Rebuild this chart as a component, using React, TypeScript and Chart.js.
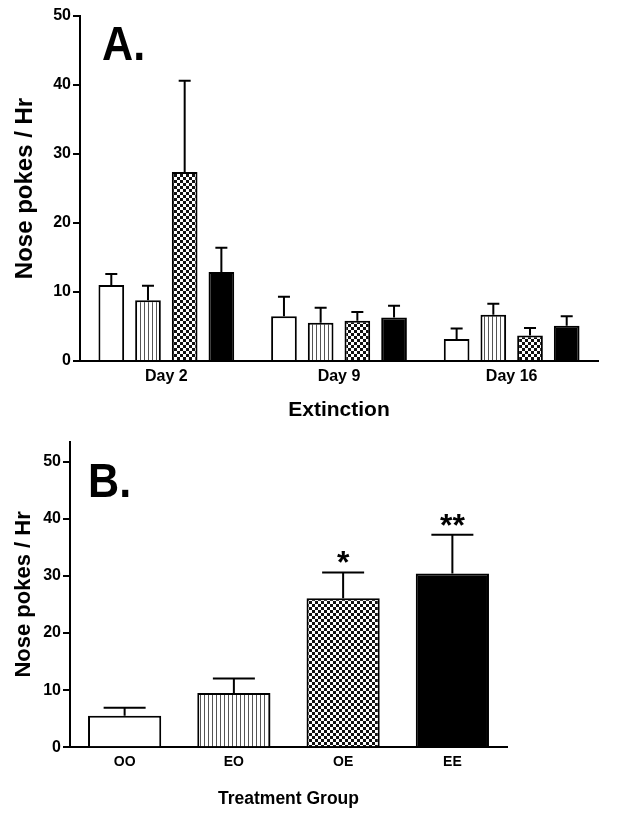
import React, { useEffect, useRef } from "react";
import { Chart, registerables } from "chart.js";
Chart.register(...registerables);

const FONT = "'Liberation Sans', Arial, Helvetica, sans-serif";

// Panel A data
const daysA = ["Day 2", "Day 9", "Day 16"];
const groupNames = ["OO", "EO", "OE", "EE"];
const meanOO_A = [11.0, 6.5, 3.2];
const semOO_A = [1.6, 2.8, 1.5];
const meanEO_A = [8.8, 5.55, 6.7];
const semEO_A = [2.1, 2.15, 1.6];
const meanOE_A = [27.4, 5.85, 3.7];
const semOE_A = [13.2, 1.25, 1.1];
const meanEE_A = [12.9, 6.3, 5.1];
const semEE_A = [3.5, 1.7, 1.4];
const yTicks = [0, 10, 20, 30, 40, 50];

// Panel B data
const groupsB = ["OO", "EO", "OE", "EE"];
const meanB = [5.5, 9.5, 26.1, 30.4];
const semB = [1.4, 2.55, 4.5, 6.8];
const sigB = ["", "", "*", "**"];

function makeStripe(): CanvasPattern {
  const c = document.createElement("canvas");
  c.width = 4;
  c.height = 4;
  const g = c.getContext("2d")!;
  g.fillStyle = "#fff";
  g.fillRect(0, 0, 4, 4);
  g.fillStyle = "#555";
  g.fillRect(0, 0, 1, 4);
  return g.createPattern(c, "repeat")!;
}

function makeChecker(size: number): CanvasPattern {
  const c = document.createElement("canvas");
  c.width = size * 2;
  c.height = size * 2;
  const g = c.getContext("2d")!;
  g.fillStyle = "#fff";
  g.fillRect(0, 0, size * 2, size * 2);
  g.fillStyle = "#111";
  g.fillRect(0, 0, size, size);
  g.fillRect(size, size, size, size);
  return g.createPattern(c, "repeat")!;
}

function errorPlugin(means: number[][], sems: number[][], cap: number, stars?: string[]) {
  return {
    id: "errbars",
    afterDatasetsDraw(chart: any) {
      const ctx = chart.ctx;
      const y = chart.scales.y;
      ctx.save();
      ctx.strokeStyle = "#000";
      ctx.lineWidth = 2;
      means.forEach((m, i) => {
        const meta = chart.getDatasetMeta(i);
        meta.data.forEach((bar: any, j: number) => {
          const x = bar.x;
          const y0 = y.getPixelForValue(m[j]);
          const y1 = y.getPixelForValue(m[j] + sems[i][j]);
          ctx.beginPath();
          ctx.moveTo(x, y0);
          ctx.lineTo(x, y1);
          ctx.moveTo(x - cap / 2, y1);
          ctx.lineTo(x + cap / 2, y1);
          ctx.stroke();
          if (stars && stars[j]) {
            ctx.fillStyle = "#000";
            ctx.font = `bold 32px ${FONT}`;
            ctx.textAlign = "center";
            ctx.textBaseline = "alphabetic";
            ctx.fillText(stars[j], x, y1 + 1);
          }
        });
      });
      ctx.restore();
    },
  };
}

function letterPlugin(letter: string, dx: number, dy: number) {
  return {
    id: "letter",
    afterDraw(chart: any) {
      const ctx = chart.ctx;
      const a = chart.chartArea;
      ctx.save();
      ctx.fillStyle = "#000";
      ctx.font = `bold 49px ${FONT}`;
      ctx.textAlign = "left";
      ctx.textBaseline = "alphabetic";
      ctx.translate(a.left + dx, a.top + dy);
      ctx.scale(0.88, 1);
      ctx.fillText(letter, 0, 0);
      ctx.restore();
    },
  };
}

function yAxis(max: number, width: number, titleSize: number) {
  return {
    min: 0,
    max,
    afterBuildTicks: (axis: any) => {
      axis.ticks = yTicks.map((v) => ({ value: v }));
    },
    afterFit: (scale: any) => {
      scale.width = width;
    },
    ticks: {
      color: "#000",
      padding: 2,
      font: { family: FONT, size: 16, weight: "bold" as const },
    },
    grid: {
      display: true,
      drawOnChartArea: false,
      drawTicks: true,
      tickLength: 7,
      color: "#000",
      lineWidth: 2,
    },
    border: { display: true, color: "#000", width: 2 },
    title: {
      display: true,
      text: "Nose pokes / Hr",
      color: "#000",
      font: { family: FONT, size: titleSize, weight: "bold" as const },
      padding: { top: 11, bottom: 0 },
    },
  };
}

function App() {
  const refA = useRef<HTMLCanvasElement>(null);
  const refB = useRef<HTMLCanvasElement>(null);

  useEffect(() => {
    const stripe = makeStripe();
    const checker = makeChecker(3);
    const fills = ["#fff", stripe, checker, "#000"];
    const meansA = [meanOO_A, meanEO_A, meanOE_A, meanEE_A];
    const semsA = [semOO_A, semEO_A, semOE_A, semEE_A];

    const chartA = new Chart(refA.current!, {
      type: "bar",
      data: {
        labels: daysA,
        datasets: meansA.map((m, i) => ({
          label: groupNames[i],
          data: m,
          backgroundColor: fills[i] as any,
          borderColor: "#000",
          borderWidth: 2,
          categoryPercentage: 0.85,
          barPercentage: 0.7,
        })),
      },
      options: {
        responsive: false,
        animation: false,
        devicePixelRatio: 1,
        layout: { padding: { left: 0, top: 16, right: 23, bottom: 0 } },
        plugins: { legend: { display: false }, tooltip: { enabled: false } },
        scales: {
          x: {
            afterFit: (s: any) => {
              s.height = 69;
            },
            grid: { display: false, drawTicks: false },
            border: { display: true, color: "#000", width: 2 },
            ticks: {
              color: "#000",
              padding: 6,
              font: { family: FONT, size: 16, weight: "bold" },
            },
            title: {
              display: true,
              text: "Extinction",
              color: "#000",
              font: { family: FONT, size: 21, weight: "bold" },
              padding: { top: 0, bottom: 7 },
            },
          },
          y: yAxis(50, 80, 24) as any,
        },
      },
      plugins: [errorPlugin(meansA, semsA, 12), letterPlugin("A.", 22, 44)],
    });

    const chartB = new Chart(refB.current!, {
      type: "bar",
      data: {
        labels: groupsB,
        datasets: [
          {
            label: "Treatment",
            data: meanB,
            backgroundColor: fills as any,
            borderColor: "#000",
            borderWidth: 2,
            categoryPercentage: 1,
            barPercentage: 0.67,
          },
        ],
      },
      options: {
        responsive: false,
        animation: false,
        devicePixelRatio: 1,
        layout: { padding: { left: 0, top: 10, right: 114, bottom: 0 } },
        plugins: { legend: { display: false }, tooltip: { enabled: false } },
        scales: {
          x: {
            afterFit: (s: any) => {
              s.height = 77.7;
            },
            grid: { display: false, drawTicks: false },
            border: { display: true, color: "#000", width: 2 },
            ticks: {
              color: "#000",
              padding: 6,
              font: { family: FONT, size: 14, weight: "bold" },
            },
            title: {
              display: true,
              text: "Treatment Group",
              color: "#000",
              font: { family: FONT, size: 17.5, weight: "bold" },
              padding: { top: 0, bottom: 15 },
            },
          },
          y: yAxis(53.5, 70, 22) as any,
        },
      },
      plugins: [errorPlugin([meanB], [semB], 42, sigB), letterPlugin("B.", 18, 55)],
    });

    return () => {
      chartA.destroy();
      chartB.destroy();
    };
  }, []);

  return (
    <div style={{ position: "absolute", left: 0, top: 0, width: 621, height: 825, background: "#fff" }}>
      <canvas ref={refA} width={621} height={430} style={{ position: "absolute", left: 0, top: 0, display: "block" }} />
      <canvas ref={refB} width={621} height={395} style={{ position: "absolute", left: 0, top: 430, display: "block" }} />
    </div>
  );
}

export default App;
